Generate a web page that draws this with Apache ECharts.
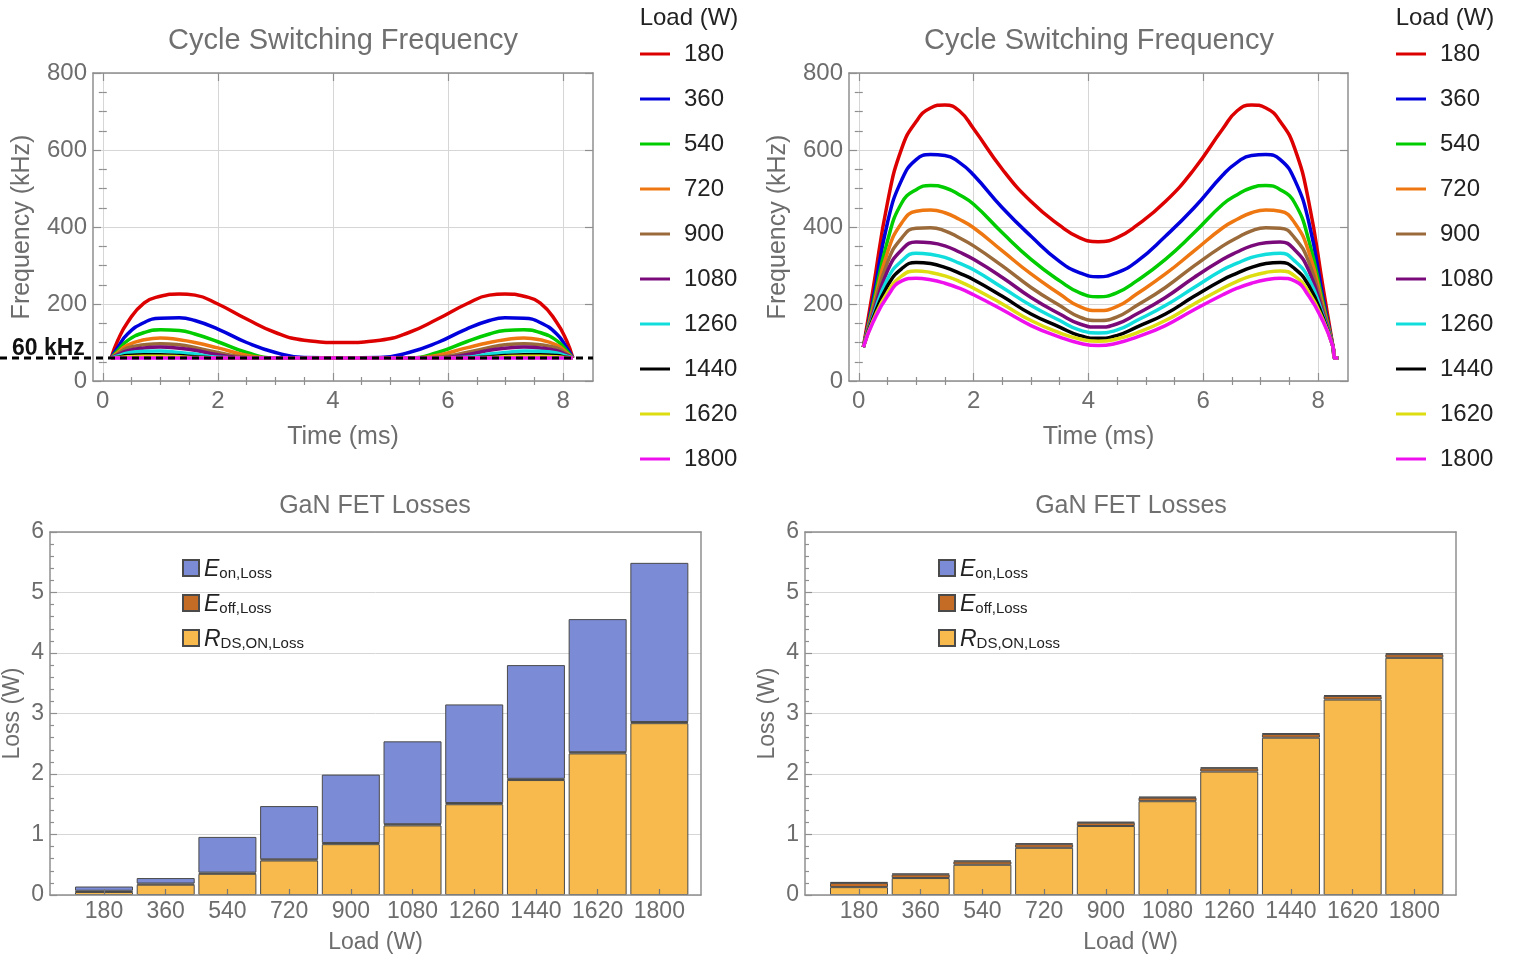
<!DOCTYPE html>
<html>
<head>
<meta charset="utf-8">
<script src="https://cdn.jsdelivr.net/npm/echarts@6/dist/echarts.min.js"></script>
<style>
  html, body { margin: 0; padding: 0; background: #fff; }
  #main { width: 1515px; height: 958px; }
</style>
</head>
<body>
<div id="main"></div>
<script>
// loads shown in every legend / bar axis
const loads = ['180', '360', '540', '720', '900', '1080', '1260', '1440', '1620', '1800'];
const lineColors = ['#dd0000', '#0000dd', '#00cc00', '#ee7711', '#9a6a3a', '#7a0a7a', '#11dddd', '#000000', '#dddd11', '#ee11ee'];
const MIN_FREQ = 60;

// left plot: frequency clamped at 60 kHz (time in ms)
const tLeft = [0.145, 0.26, 0.43, 0.72, 1.0, 1.33, 1.6, 2.0, 2.5, 3.0, 3.5, 4.16, 4.82, 5.32, 5.82, 6.32, 6.72, 6.99, 7.32, 7.6, 7.89, 8.06, 8.17];
const fL180  = [60, 105, 152, 203, 220, 226, 223, 200, 161, 126, 106, 100, 106, 126, 161, 200, 223, 226, 220, 203, 152, 105, 60];
const fL360  = [60, 87, 122, 152, 163, 164, 157, 135, 100, 74, 61, 60, 61, 74, 100, 135, 157, 164, 163, 152, 122, 87, 60];
const fL540  = [60, 79, 105, 126, 133, 131, 122, 102, 74, 60, 60, 60, 60, 60, 74, 102, 122, 131, 133, 126, 105, 79, 60];
const fL720  = [60, 74, 93, 107, 112, 107, 100, 86, 67, 60, 60, 60, 60, 60, 67, 86, 100, 107, 112, 107, 93, 74, 60];
const fL900  = [60, 70, 86, 94, 97, 94, 87, 74, 62, 60, 60, 60, 60, 60, 62, 74, 87, 94, 97, 94, 86, 70, 60];
const fL1080 = [60, 68, 79, 86, 88, 85, 80, 68, 60, 60, 60, 60, 60, 60, 60, 68, 80, 85, 88, 86, 79, 68, 60];
const fL1260 = [60, 65, 73, 77, 78, 74, 70, 62, 60, 60, 60, 60, 60, 60, 60, 62, 70, 74, 78, 77, 73, 65, 60];
const fL1440 = [60, 62, 66, 68, 68, 66, 63, 60, 60, 60, 60, 60, 60, 60, 60, 60, 63, 66, 68, 68, 66, 62, 60];
const fL1620 = [60, 61, 63, 64, 64, 63, 61, 60, 60, 60, 60, 60, 60, 60, 60, 60, 61, 63, 64, 64, 63, 61, 60];
const fL1800 = [60, 60, 60, 60, 60, 60, 60, 60, 60, 60, 60, 60, 60, 60, 60, 60, 60, 60, 60, 60, 60, 60, 60];

// right plot: unclamped frequency
const tRight = [0.08, 0.25, 0.5, 0.75, 1.0, 1.25, 1.5, 1.75, 2.0, 2.5, 3.0, 3.5, 3.85, 4.17, 4.49, 4.84, 5.34, 5.84, 6.34, 6.59, 6.84, 7.09, 7.34, 7.59, 7.84, 8.09, 8.26, 8.29, 8.35];
const fR180  = [88, 239, 463, 605, 674, 709, 717, 702, 655, 550, 466, 404, 372, 362, 372, 404, 466, 550, 655, 702, 717, 709, 674, 605, 463, 239, 88, 60, 60];
const fR360  = [88, 213, 411, 523, 575, 588, 586, 568, 535, 450, 376, 310, 281, 271, 281, 310, 376, 450, 535, 568, 586, 588, 575, 523, 411, 213, 88, 60, 60];
const fR540  = [88, 200, 364, 463, 497, 508, 502, 484, 459, 385, 316, 260, 229, 219, 229, 260, 316, 385, 459, 484, 502, 508, 497, 463, 364, 200, 88, 60, 60];
const fR720  = [88, 191, 334, 411, 441, 444, 437, 420, 398, 338, 278, 226, 193, 183, 193, 226, 278, 338, 398, 420, 437, 444, 441, 411, 334, 191, 88, 60, 60];
const fR900  = [88, 183, 308, 372, 397, 398, 390, 372, 351, 299, 243, 196, 166, 157, 166, 196, 243, 299, 351, 372, 390, 398, 397, 372, 308, 183, 88, 60, 60];
const fR1080 = [88, 174, 286, 341, 361, 359, 351, 335, 316, 269, 217, 174, 148, 140, 148, 174, 217, 269, 316, 335, 351, 359, 361, 341, 286, 174, 88, 60, 60];
const fR1260 = [88, 168, 265, 312, 332, 329, 321, 306, 289, 243, 196, 157, 132, 125, 132, 157, 196, 243, 289, 306, 321, 329, 332, 312, 265, 168, 88, 60, 60];
const fR1440 = [88, 163, 247, 292, 308, 305, 295, 280, 263, 220, 174, 140, 118, 111, 118, 140, 174, 220, 263, 280, 295, 305, 308, 292, 247, 163, 88, 60, 60];
const fR1620 = [88, 157, 230, 273, 286, 282, 273, 259, 241, 200, 157, 125, 109, 103, 109, 125, 157, 200, 241, 259, 273, 282, 286, 273, 230, 157, 88, 60, 60];
const fR1800 = [88, 153, 220, 260, 267, 263, 254, 241, 224, 185, 144, 114, 98, 92, 98, 114, 144, 185, 224, 241, 254, 263, 267, 260, 220, 153, 88, 60, 60];

// GaN FET losses (W), stacked bottom -> top: RDS, Eoff, Eon
const rdsLeft  = [0.05, 0.17, 0.35, 0.57, 0.84, 1.15, 1.50, 1.90, 2.34, 2.84];
const eoffLeft = [0.02, 0.02, 0.02, 0.02, 0.02, 0.02, 0.02, 0.02, 0.02, 0.02];
const eonLeft  = [0.07, 0.09, 0.59, 0.88, 1.13, 1.37, 1.63, 1.88, 2.20, 2.63];
const rdsRight  = [0.13, 0.28, 0.50, 0.78, 1.14, 1.55, 2.04, 2.60, 3.23, 3.92];
const eoffRight = [0.07, 0.06, 0.055, 0.06, 0.055, 0.06, 0.055, 0.06, 0.06, 0.06];
const eonRight  = [0.015, 0.015, 0.015, 0.015, 0.015, 0.015, 0.015, 0.015, 0.015, 0.015];

const freqLeft = [fL180, fL360, fL540, fL720, fL900, fL1080, fL1260, fL1440, fL1620, fL1800];
const freqRight = [fR180, fR360, fR540, fR720, fR900, fR1080, fR1260, fR1440, fR1620, fR1800];

const FONT = 'Liberation Sans';
const AX = '#8f8f8f';
const GRIDLINE = '#d6d6d6';
const TXT = '#6d6d6d';

const barColors = { RDS: '#f8ba4c', Eoff: '#c46c26', Eon: '#7b8bd6' };
const legendRich = {
    Eon: '{i|E}{s|on,Loss}',
    Eoff: '{i|E}{s|off,Loss}',
    RDS: '{i|R}{s|DS,ON,Loss}'
};

const T_MIN = -0.17, T_MAX = 8.52;
const tMajor = [0, 2, 4, 6, 8];
const tMinor = [0.5, 1, 1.5, 2.5, 3, 3.5, 4.5, 5, 5.5, 6.5, 7, 7.5];
const fMajor = [0, 200, 400, 600, 800];
const fMinor = [50, 100, 150, 250, 300, 350, 450, 500, 550, 650, 700, 750];
const B_MIN = 0.125, B_MAX = 10.675;
const barPos = [1, 2, 3, 4, 5, 6, 7, 8, 9, 10];
const lMajor = [0, 1, 2, 3, 4, 5, 6];
const lMinor = [];
for (let k = 1; k < 30; k++) { if (k % 5 != 0) lMinor.push(k / 5); }

const frames = [
    { left: 93, top: 73, width: 500, height: 308 },
    { left: 849, top: 73, width: 499, height: 308 },
    { left: 50, top: 532, width: 651, height: 363 },
    { left: 805, top: 532, width: 651, height: 363 }
];
// category grids for the bars, lined up with positions 1..10 of the frame axes
var barGrid = function(f) {
    let unit = f.width / (B_MAX - B_MIN);
    return { left: f.left + (0.5 - B_MIN) * unit, top: f.top, width: unit * loads.length, height: f.height };
};

var frameAxis = function(gridIndex, position, min, max, ticks, len, extra) {
    return Object.assign({
        type: 'value', gridIndex: gridIndex, position: position, min: min, max: max,
        axisLine: { show: true, onZero: false, lineStyle: { color: AX, width: 1.5 } },
        axisTick: { show: ticks.length > 0, inside: true, length: len, customValues: ticks, lineStyle: { color: AX, width: 1.2 } },
        axisLabel: { show: false },
        splitLine: { show: false }
    }, extra || {});
};

var minorAxis = function(gridIndex, position, min, max, ticks) {
    return frameAxis(gridIndex, position, min, max, ticks, 4, {
        axisLine: { show: false }
    });
};

var labelStyle = function(margin, size) {
    return { show: true, color: TXT, fontSize: size, fontFamily: FONT, margin: margin };
};
var nameStyle = function(size) {
    return { color: TXT, fontSize: size, fontFamily: FONT };
};

var xAxes = [];
var yAxes = [];
// top plots: frame with ticks on all four sides  (grids 0,1)
for (let g = 0; g < 2; g++) {
    xAxes.push(frameAxis(g, 'bottom', T_MIN, T_MAX, tMajor, 8, {
        axisLabel: Object.assign(labelStyle(8, 24), { customValues: tMajor }),
        splitLine: { show: true, lineStyle: { color: GRIDLINE, width: 1 } },
        name: 'Time (ms)', nameLocation: 'middle', nameGap: 44, nameTextStyle: nameStyle(25)
    }));
    xAxes.push(frameAxis(g, 'top', T_MIN, T_MAX, tMajor, 8));
    yAxes.push(frameAxis(g, 'left', 0, 800, fMajor, 8, {
        interval: 200,
        axisLabel: labelStyle(6, 24),
        splitLine: { show: true, lineStyle: { color: GRIDLINE, width: 1 } },
        name: 'Frequency (kHz)', nameLocation: 'middle', nameGap: 58, nameTextStyle: nameStyle(25)
    }));
    yAxes.push(frameAxis(g, 'right', 0, 800, fMajor, 8, { interval: 200 }));
}
// bottom plots: frames (grids 2,3); the x axis sits above the bars so its ticks show
for (let g = 2; g < 4; g++) {
    xAxes.push(frameAxis(g, 'bottom', B_MIN, B_MAX, barPos, 6, {
        z: 5,
        axisTick: { show: true, inside: true, length: 6, customValues: barPos, lineStyle: { color: '#777', width: 1.2 } },
        axisLabel: Object.assign(labelStyle(5, 23), {
            customValues: barPos,
            formatter: function(v) { return loads[Math.round(v) - 1]; }
        }),
        name: 'Load (W)', nameLocation: 'middle', nameGap: 36, nameTextStyle: nameStyle(23)
    }));
    xAxes.push(frameAxis(g, 'top', B_MIN, B_MAX, []));
    yAxes.push(frameAxis(g, 'left', 0, 6, lMajor, 7, {
        interval: 1,
        axisLabel: labelStyle(6, 23),
        splitLine: { show: true, lineStyle: { color: GRIDLINE, width: 1 } },
        name: 'Loss (W)', nameLocation: 'middle', nameGap: 26, nameTextStyle: nameStyle(23)
    }));
    yAxes.push(frameAxis(g, 'right', 0, 6, []));
}
// overlay grids carrying the minor ticks (grids 4..7)
for (let g = 0; g < 2; g++) {
    xAxes.push(minorAxis(4 + g, 'bottom', T_MIN, T_MAX, tMinor));
    xAxes.push(minorAxis(4 + g, 'top', T_MIN, T_MAX, tMinor));
    yAxes.push(minorAxis(4 + g, 'left', 0, 800, fMinor));
    yAxes.push(minorAxis(4 + g, 'right', 0, 800, fMinor));
}
for (let g = 2; g < 4; g++) {
    xAxes.push(minorAxis(4 + g, 'bottom', B_MIN, B_MAX, []));
    yAxes.push(minorAxis(4 + g, 'left', 0, 6, lMinor));
}
// bar grids (8, 9): hidden category / value axes
var barXIndex = [], barYIndex = [];
for (let g = 8; g < 10; g++) {
    barXIndex.push(xAxes.length);
    xAxes.push({ type: 'category', gridIndex: g, data: loads, show: false });
    barYIndex.push(yAxes.length);
    yAxes.push({ type: 'value', gridIndex: g, min: 0, max: 6, show: false });
}

var series = [];
loads.forEach(function(name, i) {
    series.push({
        type: 'line', name: name, xAxisIndex: 0, yAxisIndex: 0,
        data: tLeft.map(function(t, k) { return [t, freqLeft[i][k]]; }),
        color: lineColors[i], smooth: 0.5, showSymbol: false, symbol: 'none',
        lineStyle: { width: 3.5, color: lineColors[i] }
    });
});
loads.forEach(function(name, i) {
    series.push({
        type: 'line', name: name, xAxisIndex: 2, yAxisIndex: 2,
        data: tRight.map(function(t, k) { return [t, freqRight[i][k]]; }),
        color: lineColors[i], smooth: 0.5, showSymbol: false, symbol: 'none',
        lineStyle: { width: 3.5, color: lineColors[i] }
    });
});

var addBars = function(b, stack, rds, eoff, eon) {
    [['RDS', rds], ['Eoff', eoff], ['Eon', eon]].forEach(function(p) {
        series.push({
            type: 'bar', name: p[0], stack: stack,
            xAxisIndex: barXIndex[b], yAxisIndex: barYIndex[b],
            barWidth: 58, z: 1,
            data: p[1],
            itemStyle: { color: barColors[p[0]], borderColor: '#4a4a4a', borderWidth: 1 }
        });
    });
};
addBars(0, 'left', rdsLeft, eoffLeft, eonLeft);
addBars(1, 'right', rdsRight, eoffRight, eonRight);

var lineLegend = function(left) {
    return {
        orient: 'vertical', left: left, top: 37, data: loads,
        icon: 'rect', itemWidth: 30, itemHeight: 3, itemGap: 21,
        selectedMode: false,
        textStyle: { fontSize: 24, fontFamily: FONT, color: '#222', lineHeight: 24, padding: [0, 0, 0, 9] }
    };
};
var barLegend = function(left) {
    return {
        orient: 'vertical', left: left, top: 549, data: ['Eon', 'Eoff', 'RDS'],
        icon: 'rect', itemWidth: 16, itemHeight: 16, itemGap: 8,
        selectedMode: false,
        formatter: function(name) { return legendRich[name]; },
        textStyle: {
            color: '#222', fontFamily: FONT,
            rich: {
                i: { fontSize: 23, fontStyle: 'italic', fontFamily: FONT, color: '#222', lineHeight: 26, verticalAlign: 'bottom' },
                s: { fontSize: 15, fontFamily: FONT, color: '#222', lineHeight: 26, verticalAlign: 'bottom', padding: [12, 0, 0, 0] }
            }
        }
    };
};

var text = function(str, x, y, size, color, weight) {
    return {
        type: 'text', x: x, y: y, z: 50,
        style: { text: str, fill: color, fontSize: size, fontFamily: FONT, fontWeight: weight || 'normal', align: 'center', verticalAlign: 'middle' }
    };
};

var option = {
    animation: false,
    backgroundColor: '#ffffff',
    grid: frames.concat(frames.map(function(f) { return Object.assign({}, f); }), [barGrid(frames[2]), barGrid(frames[3])]),
    xAxis: xAxes,
    yAxis: yAxes,
    legend: [lineLegend(635), lineLegend(1391), barLegend(177), barLegend(933)],
    series: series,
    graphic: [
        text('Cycle Switching Frequency', 343, 41, 29, '#707070'),
        text('Cycle Switching Frequency', 1099, 41, 29, '#707070'),
        text('GaN FET Losses', 375, 506, 25, '#707070'),
        text('GaN FET Losses', 1131, 506, 25, '#707070'),
        text('Load (W)', 689, 18, 24, '#222'),
        text('Load (W)', 1445, 18, 24, '#222')
    ]
};

var chart = echarts.init(document.getElementById('main'), null, { renderer: 'canvas' });
chart.setOption(option);

// 60 kHz threshold line, placed through the left plot's scales
var p0 = chart.convertToPixel({ xAxisIndex: 0, yAxisIndex: 0 }, [T_MAX, MIN_FREQ]);
var g = option.graphic.slice();
g.push({
    type: 'line', z: 60,
    shape: { x1: 0, y1: p0[1], x2: p0[0], y2: p0[1] },
    style: { stroke: '#000', lineWidth: 3, lineDash: [7, 5] }
});
g.push({
    type: 'text', z: 60, x: 12, y: p0[1] + 2,
    style: { text: '60 kHz', fill: '#111', fontSize: 23, fontWeight: 'bold', fontFamily: FONT, align: 'left', verticalAlign: 'bottom' }
});
chart.setOption({ graphic: g });
</script>
</body>
</html>
